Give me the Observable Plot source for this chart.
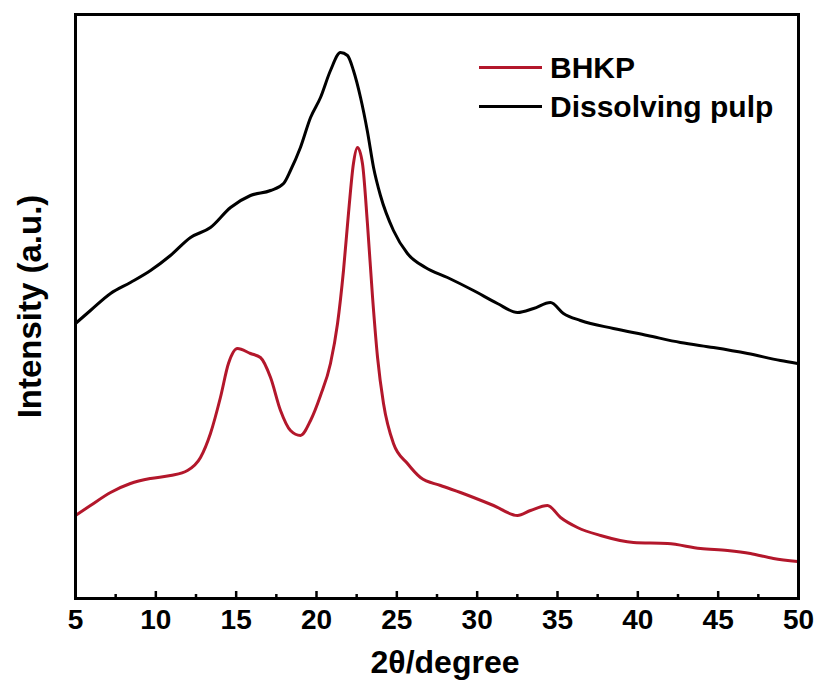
<!DOCTYPE html>
<html>
<head>
<meta charset="utf-8">
<script src="https://cdn.jsdelivr.net/npm/d3@7"></script>
<script src="https://cdn.jsdelivr.net/npm/@observablehq/plot@0.6"></script>
<style>
  html, body { margin: 0; padding: 0; background: #fff; }
  #wrap { position: relative; width: 818px; height: 680px; font-family: "Liberation Sans", Arial, sans-serif; }
  #legend { position: absolute; left: 479px; top: 48px; font-weight: bold; font-size: 30px; color: #000; }
  .item { display: flex; align-items: center; height: 39px; }
  .swatch { width: 63px; height: 3px; margin-right: 8px; }
</style>
</head>
<body>
<div id="wrap"><div id="legend"></div></div>
<script>
// Series (2θ in degrees, intensity in arbitrary units)
const bhkpAngle = [5.0,5.93,7.18,8.42,9.67,10.91,11.97,12.78,13.40,14.02,14.52,15.08,15.89,16.51,17.14,17.76,18.38,19.00,19.63,20.25,20.87,21.31,21.68,21.99,22.30,22.55,22.86,23.17,23.49,23.80,24.17,24.79,25.66,26.47,27.72,28.96,31.02,32.51,33.32,34.38,35.19,36.24,37.68,39.73,41.85,43.90,45.58,47.01,48.44,49.94];
const bhkpIntensity = [83,93,106,115,120,123,128,141,165,201,235,250,245,241,221,188,168,163,178,203,235,275,328,385,435,451,435,375,301,241,195,155,135,121,113,106,93,83,88,93,81,71,63,56,55,50,48,45,40,37];

const pulpAngle = [5.0,5.93,7.18,8.42,9.67,10.91,12.16,13.40,14.65,15.89,17.14,17.95,18.38,19.00,19.63,20.25,20.87,21.49,21.93,22.30,22.74,23.17,23.55,23.98,24.79,25.66,26.78,28.15,29.77,31.26,32.51,33.51,34.56,35.37,36.43,38.48,40.60,42.65,44.71,46.83,48.88,49.94];
const pulpIntensity = [275,288,305,316,328,343,361,371,391,403,408,415,428,451,481,501,528,546,543,528,501,467,431,403,368,345,331,321,308,295,286,290,296,285,278,270,263,256,251,245,238,235];

const seriesNames = ["BHKP", "Dissolving pulp"];
const seriesColors = ["#b3172b", "#000000"];

const majorTicks = [5,10,15,20,25,30,35,40,45,50];
const minorTicks = [7.5,12.5,17.5,22.5,27.5,32.5,37.5,42.5,47.5];

const xLabel = "2θ/degree";
const yLabel = "Intensity (a.u.)";

const rows = [
  ...bhkpAngle.map((a, i) => ({angle: a, intensity: bhkpIntensity[i], series: seriesNames[0]})),
  ...pulpAngle.map((a, i) => ({angle: a, intensity: pulpIntensity[i], series: seriesNames[1]}))
];

const font = "Liberation Sans, Arial, sans-serif";

const chart = Plot.plot({
  width: 818,
  height: 680,
  marginLeft: 75,
  marginRight: 20,
  marginTop: 14,
  marginBottom: 82,
  style: {fontFamily: font, fontWeight: "bold", color: "#000", background: "#fff"},
  x: {domain: [5, 50], label: null},
  y: {domain: [0, 584], label: null, axis: null},
  color: {domain: seriesNames, range: seriesColors},
  marks: [
    Plot.line(rows, {x: "angle", y: "intensity", z: "series", stroke: "series", strokeWidth: 3, strokeLinejoin: "round", curve: "monotone-x"}),
    Plot.frame({stroke: "#000", strokeWidth: 3}),
    Plot.axisX(majorTicks, {tickSize: -7, strokeWidth: 2.5, text: null}),
    Plot.axisX(minorTicks, {tickSize: -4, strokeWidth: 2.5, text: null}),
    Plot.axisX(majorTicks, {tickSize: 0, tickPadding: 11, fontSize: 28, fontWeight: "bold", label: null}),
    Plot.text([xLabel], {frameAnchor: "bottom", dy: 64, dx: 8, fontSize: 32, fontWeight: "bold", lineAnchor: "middle"}),
    Plot.text([yLabel], {frameAnchor: "left", dx: -45, rotate: -90, textAnchor: "middle", fontSize: 33, fontWeight: "bold", lineAnchor: "middle"})
  ]
});

const wrap = document.getElementById("wrap");
wrap.insertBefore(chart, wrap.firstChild);

const legend = document.getElementById("legend");
seriesNames.forEach((name, i) => {
  const item = document.createElement("div");
  item.className = "item";
  const sw = document.createElement("div");
  sw.className = "swatch";
  sw.style.background = seriesColors[i];
  const label = document.createElement("span");
  label.textContent = name;
  item.appendChild(sw);
  item.appendChild(label);
  legend.appendChild(item);
});
</script>
</body>
</html>
